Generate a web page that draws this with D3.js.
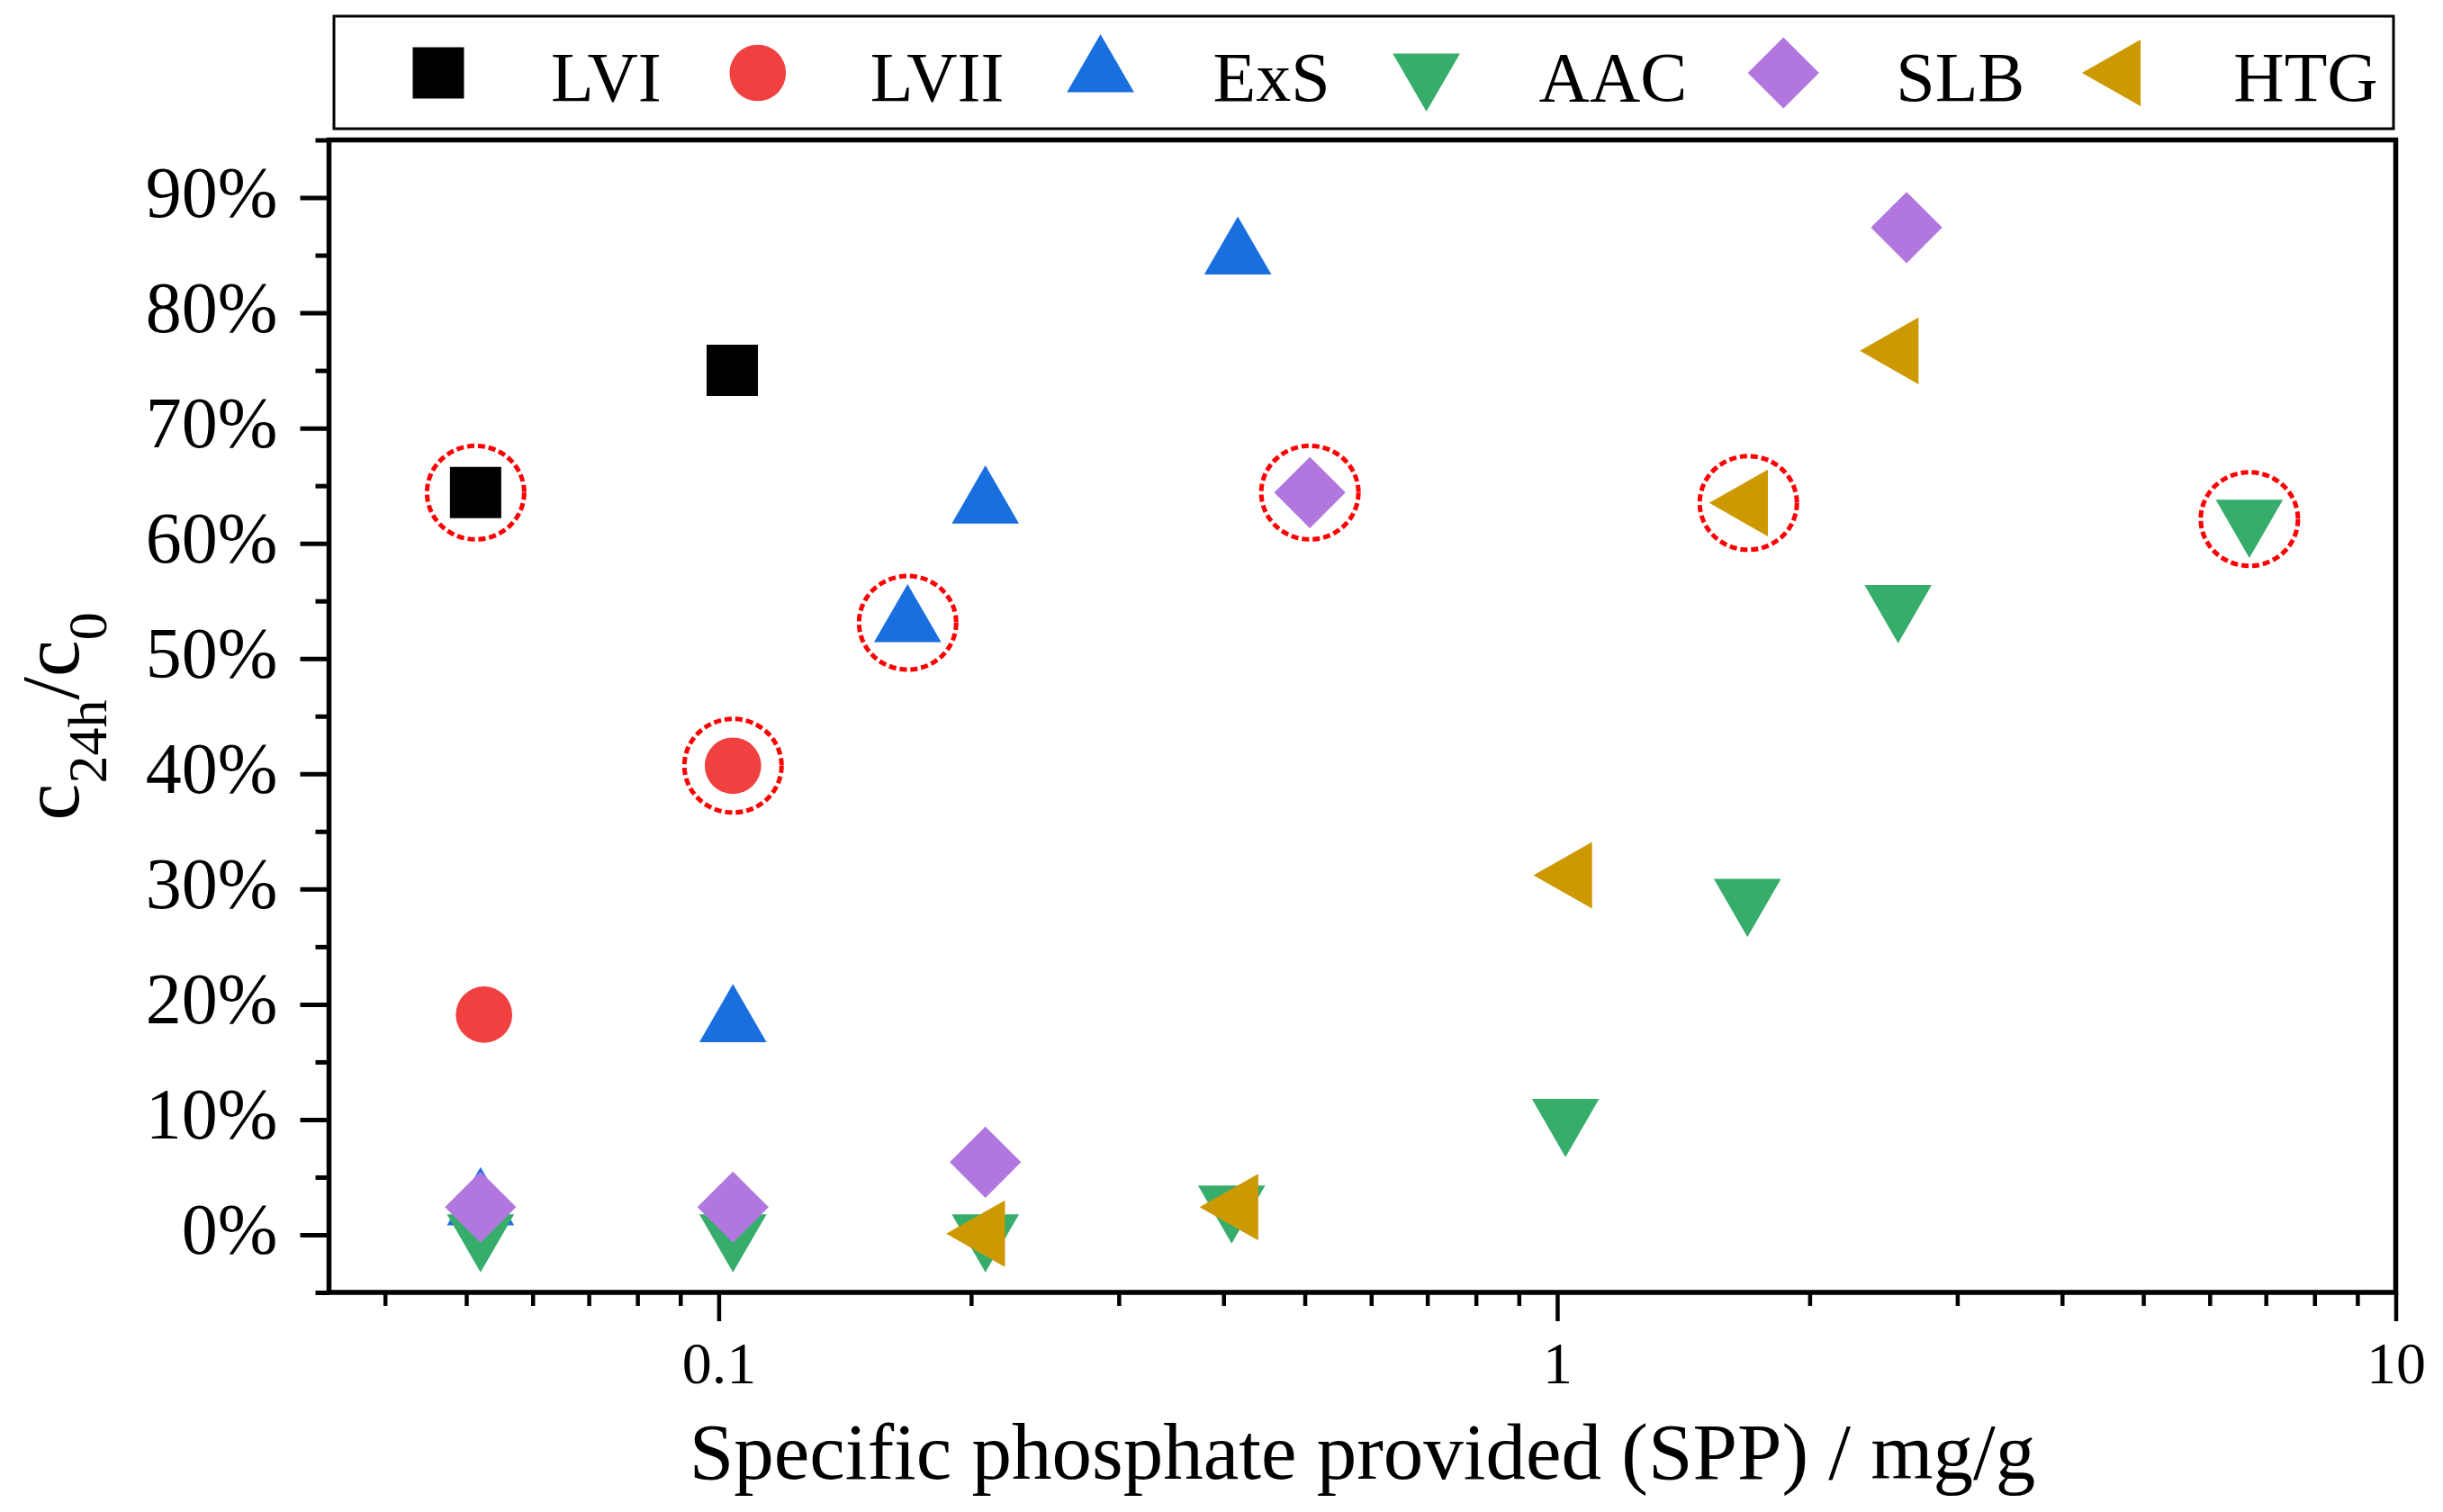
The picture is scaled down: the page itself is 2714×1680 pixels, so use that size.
<!DOCTYPE html>
<html>
<head>
<meta charset="utf-8">
<script src="https://cdn.jsdelivr.net/npm/d3@7"></script>
<style>
  body { margin: 0; background: #fff; }
  svg text { font-family: "Liberation Serif", "Times New Roman", serif; fill: #000; }
</style>
</head>
<body>
<svg id="chart"></svg>
<script>
// Series, in drawing order (last one on top)
const seriesNames = ["LVI", "LVII", "ExS", "AAC", "SLB", "HTG"];
const seriesColors = ["#000000", "#F14040", "#1A6FDF", "#37AD6B", "#B177DE", "#CC9900"];

// SPP (mg/g) and c24h/c0
const lviSPP = [0.0513, 0.1038];
const lviRatio = [0.644, 0.750];
const lviiSPP = [0.0525, 0.104];
const lviiRatio = [0.191, 0.407];
const exsSPP = [0.052, 0.104, 0.168, 0.208, 0.416];
const exsRatio = [0.025, 0.184, 0.531, 0.634, 0.850];
const aacSPP = [0.052, 0.104, 0.208, 0.409, 1.023, 1.686, 2.55, 6.69];
const aacRatio = [0.001, 0.001, 0.001, 0.026, 0.101, 0.292, 0.547, 0.621];
const slbSPP = [0.052, 0.104, 0.208, 0.507, 2.61];
const slbRatio = [0.024, 0.024, 0.063, 0.644, 0.874];
const htgSPP = [0.208, 0.417, 1.043, 1.69, 2.556];
const htgRatio = [0.001, 0.024, 0.312, 0.635, 0.767];

// points marked with a dashed red circle: [series, point index]
const highlighted = [["LVI", 0], ["LVII", 1], ["ExS", 2], ["SLB", 3], ["HTG", 3], ["AAC", 7]];

// tick labels
const xMajorTicks = [0.1, 1, 10];
const xTickLabels = ["0.1", "1", "10"];
const yMajorTicks = [0, 0.1, 0.2, 0.3, 0.4, 0.5, 0.6, 0.7, 0.8, 0.9];
const yTickLabels = ["0%", "10%", "20%", "30%", "40%", "50%", "60%", "70%", "80%", "90%"];

const xTitle = "Specific phosphate provided (SPP) / mg/g";

// ---------------------------------------------------------------
const width = 2714;
const height = 1680;
const plotLeft = 365.5;
const plotRight = 2661.5;
const plotTop = 155.5;
const plotBottom = 1436;

const svg = d3.select("#chart")
  .attr("width", width)
  .attr("height", height)
  .attr("viewBox", [0, 0, width, height]);

svg.append("rect").attr("width", width).attr("height", height).attr("fill", "#fff");

const x = d3.scaleLog()
  .domain([0.0343, 10])
  .range([plotLeft, plotRight]);

const y = d3.scaleLinear()
  .domain([-0.05, 0.95])
  .range([plotBottom, plotTop]);

// marker shapes, centred on their centroid like Origin does
const symSquare = { draw(ctx, s) { const h = s / 2; ctx.rect(-h, -h, s, s); } };
const symCircle = { draw(ctx, s) { const r = s * 0.55; ctx.moveTo(r, 0); ctx.arc(0, 0, r, 0, 2 * Math.PI); } };
const symUp = { draw(ctx, s) {
  const w = s * 1.31, h = w * 0.866;
  ctx.moveTo(0, -2 * h / 3); ctx.lineTo(w / 2, h / 3); ctx.lineTo(-w / 2, h / 3); ctx.closePath();
} };
const symDown = { draw(ctx, s) {
  const w = s * 1.31, h = w * 0.866;
  ctx.moveTo(0, 2 * h / 3); ctx.lineTo(w / 2, -h / 3); ctx.lineTo(-w / 2, -h / 3); ctx.closePath();
} };
const symDiamond = { draw(ctx, s) {
  const a = s * 0.695;
  ctx.moveTo(0, -a); ctx.lineTo(a, 0); ctx.lineTo(0, a); ctx.lineTo(-a, 0); ctx.closePath();
} };
const symLeft = { draw(ctx, s) {
  const h = s * 1.3, w = h * 0.88;
  ctx.moveTo(-2 * w / 3, 0); ctx.lineTo(w / 3, -h / 2); ctx.lineTo(w / 3, h / 2); ctx.closePath();
} };

const markerSize = 57;
const seriesSymbols = [symSquare, symCircle, symUp, symDown, symDiamond, symLeft];
const seriesX = [lviSPP, lviiSPP, exsSPP, aacSPP, slbSPP, htgSPP];
const seriesY = [lviRatio, lviiRatio, exsRatio, aacRatio, slbRatio, htgRatio];

const series = seriesNames.map((name, i) => ({
  name,
  color: seriesColors[i],
  symbol: d3.symbol().type(seriesSymbols[i]).size(markerSize),
  points: seriesX[i].map((v, j) => ({ spp: v, ratio: seriesY[i][j] }))
}));

// ---- axes -----------------------------------------------------
const xMinor = x.ticks().filter(t => !xMajorTicks.some(m => Math.abs(m - t) < 1e-9));
const yMinor = d3.range(-0.05, 0.96, 0.1).map(v => +v.toFixed(2));

function styleTicks(g, w) {
  g.select(".domain").remove();
  g.selectAll(".tick line").attr("stroke", "#000").attr("stroke-width", w);
}

svg.append("g")
  .attr("transform", `translate(0,${plotBottom})`)
  .call(d3.axisBottom(x).tickValues(xMinor).tickSize(15).tickFormat(""))
  .call(g => styleTicks(g, 4.5));

svg.append("g")
  .attr("transform", `translate(0,${plotBottom})`)
  .call(d3.axisBottom(x).tickValues(xMajorTicks).tickSize(32).tickPadding(0)
    .tickFormat((d, i) => xTickLabels[i]))
  .call(g => styleTicks(g, 4.5))
  .call(g => g.selectAll(".tick text")
    .attr("y", 101)
    .attr("dy", 0)
    .attr("font-family", null)
    .style("font-size", "66px"));

svg.append("g")
  .attr("transform", `translate(${plotLeft},0)`)
  .call(d3.axisLeft(y).tickValues(yMinor).tickSize(15).tickFormat(""))
  .call(g => styleTicks(g, 5));

svg.append("g")
  .attr("transform", `translate(${plotLeft},0)`)
  .call(d3.axisLeft(y).tickValues(yMajorTicks).tickSize(32)
    .tickFormat((d, i) => yTickLabels[i]))
  .call(g => styleTicks(g, 5))
  .call(g => g.selectAll(".tick text")
    .attr("x", -57)
    .attr("dy", "0.26em")
    .attr("font-family", null)
    .style("font-size", "80px"));

// frame
svg.append("rect")
  .attr("x", plotLeft)
  .attr("y", plotTop)
  .attr("width", plotRight - plotLeft)
  .attr("height", plotBottom - plotTop)
  .attr("fill", "none")
  .attr("stroke", "#000")
  .attr("stroke-width", 5.5);

// ---- points ---------------------------------------------------
series.forEach(s => {
  svg.append("g")
    .selectAll("path")
    .data(s.points)
    .join("path")
      .attr("transform", d => `translate(${x(d.spp)},${y(d.ratio)})`)
      .attr("d", s.symbol())
      .attr("fill", s.color);
});

// dashed red circles
svg.append("g")
  .selectAll("ellipse")
  .data(highlighted.map(([name, idx]) => series.find(s => s.name === name).points[idx]))
  .join("ellipse")
    .attr("cx", d => x(d.spp))
    .attr("cy", d => y(d.ratio))
    .attr("rx", 54)
    .attr("ry", 52)
    .attr("fill", "none")
    .attr("stroke", "#FF0000")
    .attr("stroke-width", 5)
    .attr("stroke-dasharray", "8 4");

// ---- titles ---------------------------------------------------
svg.append("text")
  .attr("x", (plotLeft + plotRight) / 2)
  .attr("y", 1643)
  .attr("text-anchor", "middle")
  .style("font-size", "89px")
  .text(xTitle);

const yTitle = svg.append("text")
  .attr("transform", `translate(87,${(plotTop + plotBottom) / 2}) rotate(-90)`)
  .attr("text-anchor", "middle")
  .style("font-size", "92px");
yTitle.append("tspan").text("c");
yTitle.append("tspan").attr("dy", 31).style("font-size", "62px").text("24h");
yTitle.append("tspan").attr("dy", -31).text("/c");
yTitle.append("tspan").attr("dy", 31).style("font-size", "62px").text("0");

// ---- legend ---------------------------------------------------
const legend = svg.append("g");
legend.append("rect")
  .attr("x", 371)
  .attr("y", 18)
  .attr("width", 2659 - 371)
  .attr("height", 125)
  .attr("fill", "#fff")
  .attr("stroke", "#000")
  .attr("stroke-width", 3);

let cursor = 487;
series.forEach(s => {
  legend.append("path")
    .attr("transform", `translate(${cursor},81)`)
    .attr("d", s.symbol())
    .attr("fill", s.color);
  const t = legend.append("text")
    .attr("x", cursor + 125)
    .attr("y", 112)
    .style("font-size", "78px")
    .text(s.name);
  cursor += 125 + t.node().getComputedTextLength() + 107;
});
</script>
</body>
</html>
